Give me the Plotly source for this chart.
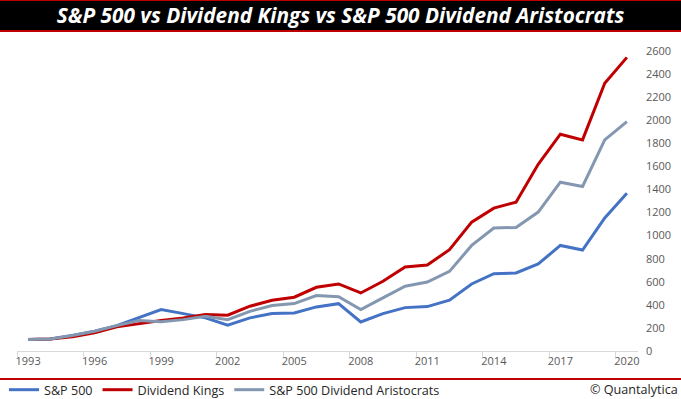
import plotly.graph_objects as go

years = [str(y) for y in range(1993, 2021)]
sp500 = [100, 105, 134, 171, 220, 287, 359, 324, 287, 223, 287, 324, 330, 382, 410,
         252, 324, 376, 385, 440, 581, 670, 676, 754, 915, 875, 1153, 1368]
kings = [100, 105, 123, 157, 209, 238, 264, 287, 316, 310, 388, 440, 466, 552, 581,
         503, 604, 728, 745, 878, 1117, 1238, 1290, 1618, 1879, 1830, 2320, 2545]
aristocrats = [100, 105, 134, 171, 220, 264, 253, 272, 301, 272, 344, 394, 411, 480, 470,
               359, 460, 561, 598, 690, 915, 1066, 1071, 1204, 1463, 1426, 1830, 1988]
y_ticks = list(range(0, 2601, 200))

series = [
    ("S&P 500", sp500, "#4472C4"),
    ("Dividend Kings", kings, "#C00000"),
    ("S&P 500 Dividend Aristocrats", aristocrats, "#8497B0"),
]

W, H = 681, 399
L, R, T, B = 17, 43, 51, 48
PW, PH = W - L - R, H - T - B


def py(px_from_top):
    return (H - B - px_from_top) / PH


def px_x(px):
    return (px - L) / PW


fig = go.Figure()
for name, vals, col in series:
    fig.add_trace(go.Scatter(x=years, y=vals, name=name, mode="lines",
                             line=dict(color=col, width=3), hoverinfo="skip"))

shapes = [
    dict(type="rect", xref="paper", yref="paper", x0=px_x(-5), x1=px_x(W + 5),
         y0=py(30), y1=py(1), fillcolor="black", line=dict(width=0), layer="above"),
    dict(type="line", xref="paper", yref="paper", x0=px_x(-5), x1=px_x(W + 5),
         y0=py(0.5), y1=py(0.5), line=dict(color="#C00000", width=1.2)),
    dict(type="line", xref="paper", yref="paper", x0=px_x(-5), x1=px_x(W + 5),
         y0=py(31), y1=py(31), line=dict(color="#C00000", width=2)),
    dict(type="line", xref="paper", yref="paper", x0=px_x(-5), x1=px_x(W + 5),
         y0=py(379), y1=py(379), line=dict(color="#C00000", width=2)),
]

fig.update_layout(
    width=W, height=H, autosize=False,
    margin=dict(l=L, r=R, t=T, b=B, pad=0, autoexpand=False),
    paper_bgcolor="white", plot_bgcolor="white",
    font=dict(family="Open Sans, sans-serif", color="#595959"),
    title=dict(text="S&P 500 vs Dividend Kings vs S&P 500 Dividend Aristocrats",
               x=0.5, xref="container", xanchor="center",
               y=1 - 16 / H, yref="container", yanchor="middle",
               font=dict(family="Open Sans, sans-serif", size=20.8, color="white",
                         weight="bold", style="italic")),
    xaxis=dict(type="category", categoryorder="array", categoryarray=years,
               range=[-0.5, len(years) - 0.5], dtick=3, tickson="boundaries",
               ticks="outside", ticklen=5, tickcolor="#D9D9D9", tickwidth=1,
               showline=True, linecolor="#D9D9D9", linewidth=1,
               showgrid=False, zeroline=False, tickangle=0, automargin=False,
               tickfont=dict(size=11, color="#595959")),
    yaxis=dict(side="right", range=[0, 2600], tickvals=y_ticks,
               showgrid=False, zeroline=False, showline=False, ticks="",
               ticklabelstandoff=7, automargin=False,
               tickfont=dict(size=11, color="#595959")),
    legend=dict(orientation="h", x=px_x(4), xref="paper", xanchor="left",
                y=py(390), yref="paper", yanchor="middle",
                font=dict(size=12.6, color="#262626"), bgcolor="rgba(0,0,0,0)",
                itemwidth=30, tracegroupgap=0),
    shapes=shapes,
    annotations=[dict(text="© Quantalytica", xref="paper", yref="paper",
                      x=px_x(680), y=py(390), xanchor="right", yanchor="middle",
                      showarrow=False, font=dict(size=12.6, color="#262626"))],
    showlegend=True,
    hovermode=False,
)

fig.write_html("out.html",
               config={"displayModeBar": False, "staticPlot": True},
               post_script="document.body.style.margin='0';"
                           "document.body.style.overflow='hidden';")
